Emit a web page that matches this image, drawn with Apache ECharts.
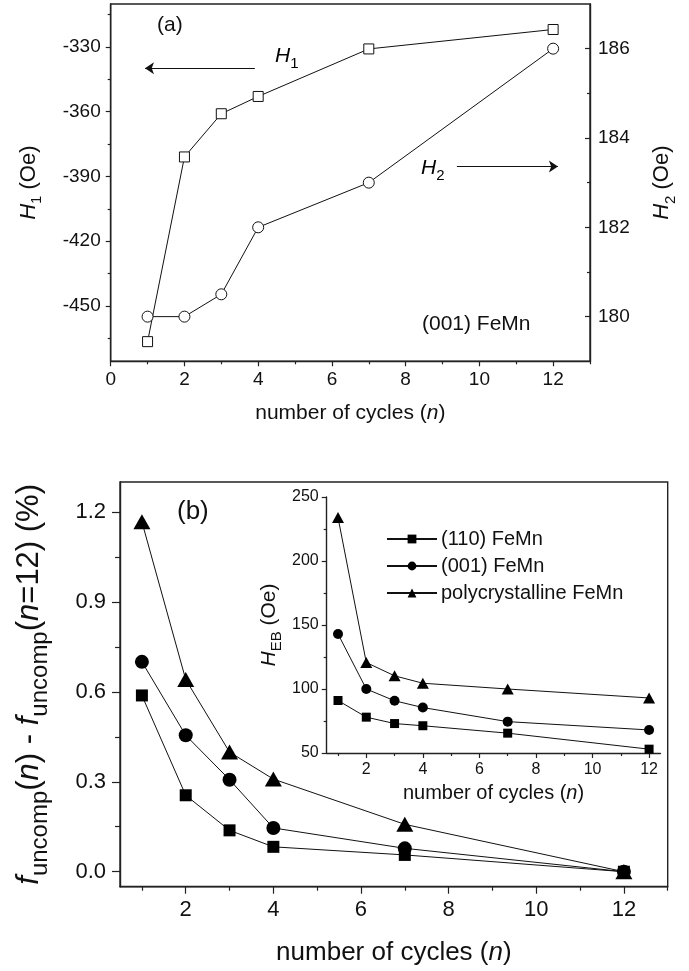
<!DOCTYPE html>
<html>
<head>
<meta charset="utf-8">
<script src="https://cdn.jsdelivr.net/npm/echarts@6/dist/echarts.min.js"></script>
<style>
html,body{margin:0;padding:0;background:#fff;}
#c{width:689px;height:971px;}
</style>
</head>
<body>
<div id="c"></div>
<script>
// ---------- data ----------
var cycles = [1, 2, 3, 4, 7, 12];
// panel (a)
var H1 = [-466.5, -381, -361, -353, -331, -322];
var H2 = [180, 180, 180.5, 182, 183, 186];
// panel (b) main
var f110 = [0.588, 0.255, 0.138, 0.083, 0.056, 0];
var f001 = [0.70, 0.455, 0.307, 0.146, 0.078, 0];
var fPoly = [1.167, 0.641, 0.399, 0.309, 0.158, 0];
// panel (b) inset
var heb110 = [91, 78, 73, 71.3, 65.5, 53];
var heb001 = [143, 100, 90.8, 85.5, 74.5, 68];
var hebPoly = [234, 120.7, 110.3, 104.5, 100, 93];
// tick labels
var xTicksA = [0, 2, 4, 6, 8, 10, 12];
var xMinorA = [1, 3, 5, 7, 9, 11, 13];
var yTicksH1 = [-450, -420, -390, -360, -330];
var yMinorH1 = [-465, -435, -405, -375, -345, -315];
var yTicksH2 = [180, 182, 184, 186];
var yMinorH2 = [181, 183, 185];
var xTicksB = [2, 4, 6, 8, 10, 12];
var xMinorB = [1, 3, 5, 7, 9, 11, 13];
var yTicksB = [0, 0.3, 0.6, 0.9, 1.2];
var yMinorB = [0.15, 0.45, 0.75, 1.05];
var xTicksIn = [2, 4, 6, 8, 10, 12];
var xMinorIn = [1, 3, 5, 7, 9, 11];
var yTicksIn = [50, 100, 150, 200, 250];
var yMinorIn = [75, 125, 175, 225];
var legendNames = ['(110) FeMn', '(001) FeMn', 'polycrystalline FeMn'];

function pairs(xs, ys) { return xs.map(function (x, i) { return [x, ys[i]]; }); }

var FONT = 'Liberation Sans, Arial, sans-serif';
var INK = '#111';
var AX = '#222';

function majorAxis(o) {
  var a = {
    type: 'value',
    gridIndex: o.grid,
    min: o.min, max: o.max,
    position: o.position,
    axisLine: { show: true, onZero: false, lineStyle: { color: AX, width: 1.4 } },
    axisTick: { show: true, inside: !!o.inside, length: o.len, customValues: o.ticks, lineStyle: { color: AX, width: 1.2 } },
    axisLabel: { show: true, customValues: o.ticks, margin: o.margin, fontSize: o.fs, color: INK, fontFamily: FONT,
                 formatter: o.fmt || function (v) { return String(v); } },
    splitLine: { show: false },
    minorTick: { show: false }
  };
  if (o.name) {
    a.name = o.name;
    a.nameLocation = 'middle';
    a.nameGap = o.nameGap;
    if (o.nameRotate !== undefined) a.nameRotate = o.nameRotate;
    a.nameTextStyle = o.nameStyle;
  }
  return a;
}
function minorAxis(o) {
  return {
    type: 'value',
    gridIndex: o.grid,
    min: o.min, max: o.max,
    position: o.position,
    axisLine: { show: false, onZero: false },
    axisTick: { show: true, inside: !!o.inside, length: o.len, customValues: o.ticks, lineStyle: { color: AX, width: 1.2 } },
    axisLabel: { show: false },
    splitLine: { show: false }
  };
}

function subRich(main, sub) {
  return {
    i: { fontStyle: 'italic', fontSize: main, fontFamily: FONT, color: INK, lineHeight: main * 1.45 },
    r: { fontSize: main, fontFamily: FONT, color: INK, lineHeight: main * 1.45 },
    s: { fontSize: sub, fontFamily: FONT, color: INK, lineHeight: sub * 1.1, verticalAlign: 'bottom' }
  };
}

var chart = echarts.init(document.getElementById('c'), null, { renderer: 'canvas' });

var arrowLine = { color: INK, width: 1, type: 'solid' };

var option = {
  backgroundColor: '#fff',
  animation: false,
  textStyle: { fontFamily: FONT },
  grid: [
    { left: 110.7, top: 4, width: 479.3, height: 357.3, show: true, borderColor: AX, borderWidth: 1.4, outerBoundsMode: 'none', containLabel: false },
    { left: 120, top: 482, width: 547.7, height: 404.7, show: true, borderColor: AX, borderWidth: 1.4, outerBoundsMode: 'none', containLabel: false },
    { left: 326.7, top: 497, width: 333.7, height: 256, show: false, outerBoundsMode: 'none', containLabel: false }
  ],
  xAxis: [
    majorAxis({ grid: 0, min: 0, max: 13, position: 'bottom', len: 5, ticks: xTicksA, margin: 9, fs: 19,
      name: 'number of cycles ({i|n})', nameGap: 41,
      nameStyle: { fontSize: 21, color: INK, fontFamily: FONT, rich: { i: { fontStyle: 'italic', fontSize: 21, fontFamily: FONT, color: INK } } } }),
    minorAxis({ grid: 0, min: 0, max: 13, position: 'bottom', len: 3, ticks: xMinorA }),
    majorAxis({ grid: 1, min: 0.5, max: 13, position: 'bottom', len: 7, ticks: xTicksB, margin: 12, fs: 22,
      name: 'number of cycles ({i|n})', nameGap: 53,
      nameStyle: { fontSize: 26, color: INK, fontFamily: FONT, rich: { i: { fontStyle: 'italic', fontSize: 26, fontFamily: FONT, color: INK } } } }),
    minorAxis({ grid: 1, min: 0.5, max: 13, position: 'bottom', len: 4, ticks: xMinorB }),
    majorAxis({ grid: 2, min: 0.6, max: 12.4, position: 'bottom', len: 5, ticks: xTicksIn, margin: 9, fs: 16,
      name: 'number of cycles ({i|n})', nameGap: 30,
      nameStyle: { fontSize: 20, color: INK, fontFamily: FONT, rich: { i: { fontStyle: 'italic', fontSize: 20, fontFamily: FONT, color: INK } } } }),
    minorAxis({ grid: 2, min: 0.6, max: 12.4, position: 'bottom', len: 3, ticks: xMinorIn })
  ],
  yAxis: [
    majorAxis({ grid: 0, min: -475.6, max: -310.2, position: 'left', len: 5, ticks: yTicksH1, margin: 10, fs: 19,
      name: '{i|H}{s|1}{r| (Oe)}', nameGap: 66, nameRotate: 90,
      nameStyle: { rich: subRich(22, 15) } }),
    minorAxis({ grid: 0, min: -475.6, max: -310.2, position: 'left', len: 3, ticks: yMinorH1 }),
    majorAxis({ grid: 0, min: 179, max: 187, position: 'right', inside: true, len: 5, ticks: yTicksH2, margin: 8, fs: 19,
      name: '{i|H}{s|2}{r| (Oe)}', nameGap: 56, nameRotate: 90,
      nameStyle: { rich: subRich(22, 15) } }),
    minorAxis({ grid: 0, min: 179, max: 187, position: 'right', inside: true, len: 3, ticks: yMinorH2 }),
    majorAxis({ grid: 1, min: -0.05, max: 1.3, position: 'left', len: 8, ticks: yTicksB, margin: 14, fs: 22,
      fmt: function (v) { return v.toFixed(1); },
      name: '{i|f}{s|uncomp}{r|(}{i|n}{r|) - }{i|f}{s|uncomp}{r|(}{i|n}{r|=12) (%)}', nameGap: 68, nameRotate: 90,
      nameStyle: { rich: subRich(31, 24) } }),
    minorAxis({ grid: 1, min: -0.05, max: 1.3, position: 'left', len: 5, ticks: yMinorB }),
    majorAxis({ grid: 2, min: 50, max: 250, position: 'left', len: 5, ticks: yTicksIn, margin: 8, fs: 16,
      name: '{i|H}{s|EB}{r| (Oe)}', nameGap: 42, nameRotate: 90,
      nameStyle: { rich: subRich(21, 15) } }),
    minorAxis({ grid: 2, min: 50, max: 250, position: 'left', len: 3, ticks: yMinorIn })
  ],
  legend: {
    data: legendNames,
    orient: 'vertical',
    left: 386, top: 528,
    padding: 0,
    itemWidth: 50, itemHeight: 11,
    itemGap: 5,
    selectedMode: false,
    textStyle: { fontSize: 20, color: INK, fontFamily: FONT, lineHeight: 22, padding: [0, 0, 0, -1] }
  },
  series: [
    { name: 'H1', type: 'line', xAxisIndex: 0, yAxisIndex: 0, data: pairs(cycles, H1),
      symbol: 'rect', symbolSize: 10, showAllSymbol: true,
      lineStyle: { color: INK, width: 1 }, itemStyle: { color: '#fff', borderColor: INK, borderWidth: 1 },
      markLine: { silent: true, symbol: ['none', 'arrow'], symbolSize: 9, label: { show: false },
        lineStyle: arrowLine, itemStyle: { color: INK },
        data: [[{ coord: [3.91, -339.9] }, { coord: [0.93, -339.9] }]] } },
    { name: 'H2', type: 'line', xAxisIndex: 0, yAxisIndex: 2, data: pairs(cycles, H2),
      symbol: 'circle', symbolSize: 11,
      lineStyle: { color: INK, width: 1 }, itemStyle: { color: '#fff', borderColor: INK, borderWidth: 1 },
      markLine: { silent: true, symbol: ['none', 'arrow'], symbolSize: 9, label: { show: false },
        lineStyle: arrowLine, itemStyle: { color: INK },
        data: [[{ coord: [9.39, 183.36] }, { coord: [12.13, 183.36] }]] } },
    { name: 'main110', type: 'line', xAxisIndex: 2, yAxisIndex: 4, data: pairs(cycles, f110),
      symbol: 'rect', symbolSize: 12, lineStyle: { color: INK, width: 1 }, itemStyle: { color: '#000' } },
    { name: 'main001', type: 'line', xAxisIndex: 2, yAxisIndex: 4, data: pairs(cycles, f001),
      symbol: 'circle', symbolSize: 14, lineStyle: { color: INK, width: 1 }, itemStyle: { color: '#000' } },
    { name: 'mainPoly', type: 'line', xAxisIndex: 2, yAxisIndex: 4, data: pairs(cycles, fPoly),
      symbol: 'triangle', symbolSize: [17, 15], lineStyle: { color: INK, width: 1 }, itemStyle: { color: '#000' } },
    { name: legendNames[0], type: 'line', xAxisIndex: 4, yAxisIndex: 6, data: pairs(cycles, heb110),
      symbol: 'rect', symbolSize: 9, lineStyle: { color: INK, width: 1 }, itemStyle: { color: '#000' } },
    { name: legendNames[1], type: 'line', xAxisIndex: 4, yAxisIndex: 6, data: pairs(cycles, heb001),
      symbol: 'circle', symbolSize: 10, lineStyle: { color: INK, width: 1 }, itemStyle: { color: '#000' } },
    { name: legendNames[2], type: 'line', xAxisIndex: 4, yAxisIndex: 6, data: pairs(cycles, hebPoly),
      symbol: 'triangle', symbolSize: [12, 11], lineStyle: { color: INK, width: 1 }, itemStyle: { color: '#000' } }
  ],
  graphic: [
    { type: 'text', left: 157, top: 15, style: { text: '(a)', fontSize: 21, fill: INK, fontFamily: FONT } },
    { type: 'text', left: 177, top: 499, style: { text: '(b)', fontSize: 26, fill: INK, fontFamily: FONT } },
    { type: 'text', left: 422, top: 314, style: { text: '(001) FeMn', fontSize: 21, fill: INK, fontFamily: FONT } },
    { type: 'text', left: 275, top: 46, style: { text: '{i|H}{s|1}', rich: subRich(21, 15) } },
    { type: 'text', left: 421, top: 158, style: { text: '{i|H}{s|2}', rich: subRich(21, 15) } }
  ]
};
chart.setOption(option);
</script>
</body>
</html>
